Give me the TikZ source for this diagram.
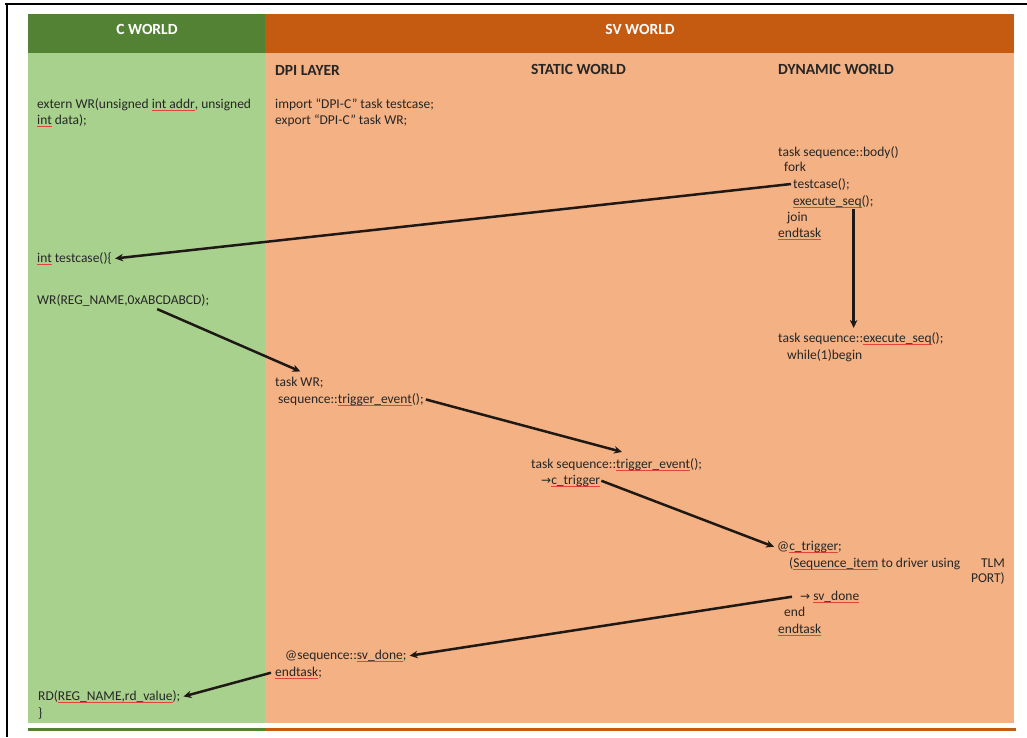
\documentclass[tikz,border=0pt]{standalone}
\usepackage{fontspec}
\setmainfont{Carlito}
\newfontfamily\arrowfont{DejaVu Sans}
\usetikzlibrary{arrows.meta}

\definecolor{cworldhead}{HTML}{548235}
\definecolor{cworldbody}{HTML}{A9D18E}
\definecolor{svhead}{HTML}{C55A11}
\definecolor{svbody}{HTML}{F4B183}
\definecolor{ink}{HTML}{262626}
\definecolor{wire}{HTML}{1E1915}
\definecolor{splred}{HTML}{E0453B}

% red spell-check underline
\newsavebox\splbox
\newcommand\spl[1]{\sbox\splbox{#1}%
  \rlap{\textcolor{splred}{\rule[-2.8pt]{\wd\splbox}{0.6pt}}}\usebox\splbox}
\newcommand\rarr{{\arrowfont\fontsize{12}{14}\selectfont →}}

\begin{document}
\begin{tikzpicture}[x=1pt,y=-1pt,
  txt/.style={anchor=base west,inner sep=0pt,text=ink,
              font=\fontsize{13.5}{16}\selectfont},
  txtr/.style={txt,anchor=base east},
  sub/.style={anchor=base west,inner sep=0pt,text=ink,
              font=\fontsize{15.5}{18}\selectfont\bfseries},
  head/.style={inner sep=0pt,text=white,
               font=\fontsize{15.5}{18}\selectfont\bfseries},
  flow/.style={draw=wire,line width=2.5pt,
               -{Stealth[length=8pt,width=7.5pt]}}]

\useasboundingbox (0,0) rectangle (1027,737);
\fill[white] (0,0) rectangle (1027,737);

% frame edges
\draw[black,line width=2.4pt] (5,4) -- (1027,4);
\draw[black,line width=2.4pt] (7,3) -- (7,737);

% table: header row, body and bottom strip
\fill[cworldhead] (28,14) rectangle (265,53);
\fill[svhead] (265,14) rectangle (1014,53);
\fill[cworldbody] (28,53) rectangle (265,723);
\fill[svbody] (265,53) rectangle (1014,723);
\fill[cworldhead] (28,727.5) rectangle (265,731);
\fill[svhead] (265,727.5) rectangle (1016,731);

% headers
\node[head] (hc) at (147,29) {C WORLD};
\node[head] (hsv) at (640,29) {SV WORLD};
\node[sub] (dpi) at (275,75) {DPI LAYER};
\node[sub] (stw) at (531,74) {STATIC WORLD};
\node[sub] (dyw) at (778,74) {DYNAMIC WORLD};

% C world
\node[txt] (ext1) at (37,108) {extern WR(unsigned \spl{int addr}, unsigned};
\node[txt] (ext2) at (37,124) {\spl{int} data);};
\node[txt] (itc) at (37,262) {\spl{int} testcase()\{};
\node[txt] (wrc) at (37,304) {WR(REG\_NAME,0xABCDABCD);};
\node[txt] (rd1) at (38,700) {RD(\spl{REG\_NAME,rd\_value});};
\node[txt] (rd2) at (38,717) {\}};

% DPI layer
\node[txt] (imp1) at (275,108) {import “DPI-C” task testcase;};
\node[txt] (imp2) at (275,124) {export “DPI-C” task WR;};
\node[txt] (tw1) at (275,386) {task WR;};
\node[txt] (tw2) at (278,403) {sequence::\spl{trigger\_event}();};
\node[txt] (sq1) at (285,659) {@sequence::\spl{sv\_done};};
\node[txt] (sq2) at (275,676) {\spl{endtask};};

% static world
\node[txt] (te1) at (531,468) {task sequence::\spl{trigger\_event}();};
\node[txt] (te2) at (541,484) {\rarr\spl{c\_trigger}};

% dynamic world
\node[txt] (b1) at (778,156) {task sequence::body()};
\node[txt] (b2) at (784,171) {fork};
\node[txt] (b3) at (793,188) {testcase();};
\node[txt] (b4) at (793,205) {\spl{execute\_seq}();};
\node[txt] (b5) at (787,221) {join};
\node[txt] (b6) at (778,237) {\spl{endtask}};
\node[txt] (es1) at (778,342) {task sequence::\spl{execute\_seq}();};
\node[txt] (es2) at (787,359) {while(1)begin};
\node[txt] (ct1) at (777,550) {@\spl{c\_trigger};};
\node[txt] (ct2) at (789,567) {(\spl{Sequence\_item} to driver using};
\node[txtr] (tlm) at (1005,567) {TLM};
\node[txtr] (port) at (1005,582) {PORT)};
\node[txt] (sd1) at (800,600) {\rarr\ \spl{sv\_done}};
\node[txt] (sd2) at (784,616) {end};
\node[txt] (sd3) at (778,633) {\spl{endtask}};

% call flow
\draw[flow] ([xshift=-2pt]b3.west) -- ([xshift=3pt]itc.east);
\draw[flow] ([xshift=34pt,yshift=-3pt]wrc.south) -- ([xshift=1pt,yshift=5pt]tw1.north);
\coordinate (fk) at ([xshift=-20pt,yshift=-1pt]b4.south east);
\draw[flow] (fk) -- ([yshift=4pt]fk |- es1.north);
\draw[flow] ([xshift=2pt]tw2.east) -- ([xshift=91pt,yshift=6pt]te1.north west);
\draw[flow] ([xshift=1pt]te2.east) -- ([xshift=-3pt]ct1.west);
\draw[flow] ([xshift=-8pt]sd1.west) -- ([xshift=3pt]sq1.east);
\draw[flow] ([xshift=-4pt]sq2.west) -- ([xshift=3pt]rd1.east);

\end{tikzpicture}
\end{document}
